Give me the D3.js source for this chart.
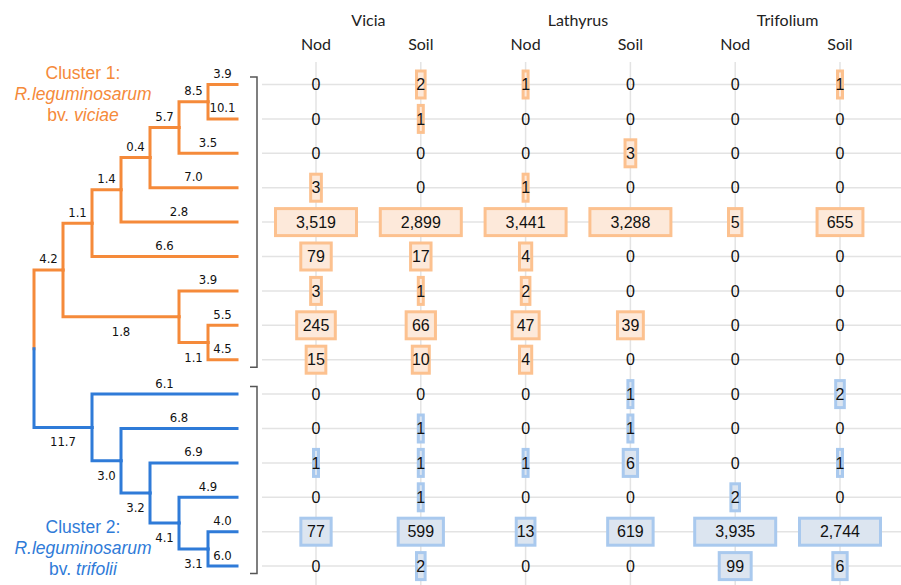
<!DOCTYPE html>
<html>
<head>
<meta charset="utf-8">
<script src="https://cdn.jsdelivr.net/npm/d3@7"></script>
<style>
  body { margin: 0; background: #fff; }
  svg { display: block; }
</style>
</head>
<body>
<svg id="chart" width="901" height="585"></svg>
<script>
// Host plants and isolation sources (column headers)
const hosts = ["Vicia", "Lathyrus", "Trifolium"];
const sources = ["Nod", "Soil"];

// Isolate counts per genotype (rows follow the tree's leaf order)
const viciaNod      = [0, 0, 0, 3, 3519, 79, 3, 245, 15, 0, 0, 1, 0, 77, 0];
const viciaSoil     = [2, 1, 0, 0, 2899, 17, 1, 66, 10, 0, 1, 1, 1, 599, 2];
const lathyrusNod   = [1, 0, 0, 1, 3441, 4, 2, 47, 4, 0, 0, 1, 0, 13, 0];
const lathyrusSoil  = [0, 0, 3, 0, 3288, 0, 0, 39, 0, 1, 1, 6, 0, 619, 0];
const trifoliumNod  = [0, 0, 0, 0, 5, 0, 0, 0, 0, 0, 0, 0, 2, 3935, 99];
const trifoliumSoil = [1, 0, 0, 0, 655, 0, 0, 0, 0, 2, 0, 1, 0, 2744, 6];

// Genotype tree with branch lengths
const tree = {
  children: [
    { cluster: "c1", len: 4.2, children: [
      { len: 1.1, children: [
        { len: 1.4, children: [
          { len: 0.4, children: [
            { len: 5.7, children: [
              { len: 8.5, children: [{ len: 3.9 }, { len: 10.1 }] },
              { len: 3.5 }
            ] },
            { len: 7.0 }
          ] },
          { len: 2.8 }
        ] },
        { len: 6.6 }
      ] },
      { len: 1.8, children: [
        { len: 3.9 },
        { len: 1.1, children: [{ len: 5.5 }, { len: 4.5 }] }
      ] }
    ] },
    { cluster: "c2", len: 11.7, children: [
      { len: 6.1 },
      { len: 3.0, children: [
        { len: 6.8 },
        { len: 3.2, children: [
          { len: 6.9 },
          { len: 4.1, children: [
            { len: 4.9 },
            { len: 3.1, children: [{ len: 4.0 }, { len: 6.0 }] }
          ] }
        ] }
      ] }
    ] }
  ]
};

// Cluster captions
const clusterNames = ["c1", "c2"];
const clusterTitles = ["Cluster 1:", "Cluster 2:"];
const clusterSpecies = ["R.leguminosarum", "R.leguminosarum"];
const clusterBiovars = ["viciae", "trifolii"];

const seriesValues = [viciaNod, viciaSoil, lathyrusNod, lathyrusSoil, trifoliumNod, trifoliumSoil];
const columns = [];
hosts.forEach((h, i) => sources.forEach((s, j) => {
  columns.push({ key: h + "-" + s, host: h, source: s, values: seriesValues[i * 2 + j] });
}));

const palette = {
  c1: { line: "#f58a3a", fill: "#fde9da", stroke: "#fcc18f" },
  c2: { line: "#2f7bd8", fill: "#dce5f0", stroke: "#a9c9ee" }
};

const svg = d3.select("#chart");
const nRows = viciaNod.length;

// Scales
const y = d3.scaleBand().domain(d3.range(nRows)).range([67.3, 67.3 + nRows * 34.4]);
const x = d3.scalePoint().domain(columns.map(c => c.key)).range([316, 840]);
const boxWidth = d3.scaleLog()
  .domain([1, 10, 100, 1000, 2500])
  .range([8, 20, 35, 52, 84])
  .clamp(true);

// ---- Tree (leaf-aligned cladogram) ----
const root = d3.hierarchy(tree);
const treeLeft = 34, treeWidth = 203;
d3.cluster().size([nRows * 34.4, treeWidth]).separation(() => 1)(root);
root.each(d => {
  d.sx = treeLeft + d.y;
  d.sy = y.range()[0] + d.x;
  let a = d;
  while (a.depth > 1) a = a.parent;
  d.cl = a.depth === 1 ? a.data.cluster : null;
});

const gTree = svg.append("g");
gTree.selectAll("path.link")
  .data(root.descendants().filter(d => d.parent))
  .join("path")
  .attr("class", "link")
  .attr("fill", "none")
  .attr("stroke", d => palette[d.cl].line)
  .attr("stroke-width", 3)
  .attr("stroke-linecap", "square")
  .attr("d", d => `M${d.parent.sx},${d.parent.sy}V${d.sy}H${d.sx}`);

// Branch lengths: above the branch, except inner lower branches (below)
gTree.selectAll("text.len")
  .data(root.descendants().filter(d => d.parent))
  .join("text")
  .attr("class", "len")
  .attr("x", d => (d.parent.sx + d.sx) / 2)
  .attr("y", d => (d.children && d === d.parent.children[1]) ? d.sy + 19 : d.sy - 6.5)
  .attr("text-anchor", "middle")
  .attr("font-family", "DejaVu Sans Condensed, DejaVu Sans, sans-serif")
  .attr("font-size", 13)
  .attr("fill", "#111")
  .text(d => d.data.len.toFixed(1));

// Cluster captions
const captionY = { c1: 79, c2: 533 };
const captionX = 83;
clusterNames.forEach((c, i) => {
  const t = svg.append("text")
    .attr("text-anchor", "middle")
    .attr("font-family", "Liberation Sans, Arial, sans-serif")
    .attr("font-size", 17.5)
    .attr("fill", palette[c].line);
  t.append("tspan").attr("x", captionX).attr("y", captionY[c]).text(clusterTitles[i]);
  t.append("tspan").attr("x", captionX).attr("y", captionY[c] + 21)
    .attr("font-style", "italic").text(clusterSpecies[i]);
  t.append("tspan").attr("x", captionX).attr("y", captionY[c] + 42).text("bv. ");
  t.append("tspan").attr("font-style", "italic").text(clusterBiovars[i]);
});

// ---- Grid ----
const leaves = root.leaves();
const gGrid = svg.append("g");
gGrid.selectAll("line.h")
  .data(d3.range(nRows))
  .join("line")
  .attr("x1", 262).attr("x2", 901)
  .attr("y1", i => y(i) + y.bandwidth() / 2)
  .attr("y2", i => y(i) + y.bandwidth() / 2)
  .attr("stroke", "#e3e3e3").attr("stroke-width", 1.5);
gGrid.selectAll("line.v")
  .data(columns)
  .join("line")
  .attr("x1", d => x(d.key)).attr("x2", d => x(d.key))
  .attr("y1", 62).attr("y2", 585)
  .attr("stroke", "#e3e3e3").attr("stroke-width", 1.5);

// Cluster brackets
clusterNames.forEach(c => {
  const rows = leaves.map((d, i) => ({ d, i })).filter(o => o.d.cl === c).map(o => o.i);
  const top = y(d3.min(rows)) + y.bandwidth() / 2 - 7.5;
  const bot = y(d3.max(rows)) + y.bandwidth() / 2 + 7.5;
  svg.append("path")
    .attr("fill", "none").attr("stroke", "#555").attr("stroke-width", 1.5)
    .attr("d", `M250,${top}H257V${bot}H250`);
});

// ---- Headers ----
const gHead = svg.append("g")
  .attr("font-family", "Lato, sans-serif")
  .attr("font-size", 16)
  .attr("fill", "#222")
  .attr("text-anchor", "middle");
gHead.selectAll("text.host")
  .data(hosts)
  .join("text")
  .attr("class", "host")
  .attr("x", h => d3.mean(columns.filter(c => c.host === h), c => x(c.key)))
  .attr("y", 26)
  .text(h => h);
gHead.selectAll("text.src")
  .data(columns)
  .join("text")
  .attr("class", "src")
  .attr("x", d => x(d.key))
  .attr("y", 50)
  .text(d => d.source);

// ---- Cells ----
const fmt = d3.format(",");
const cells = [];
columns.forEach(c => c.values.forEach((v, i) => cells.push({ col: c.key, row: i, v, cl: leaves[i].cl })));

const gCells = svg.append("g");
gCells.selectAll("rect")
  .data(cells.filter(d => d.v > 0))
  .join("rect")
  .attr("x", d => x(d.col) - boxWidth(d.v) / 2 + 1.5)
  .attr("y", d => y(d.row) + y.bandwidth() / 2 - 15 + 1.5)
  .attr("width", d => boxWidth(d.v) - 3)
  .attr("height", 27)
  .attr("fill", d => palette[d.cl].fill)
  .attr("stroke", d => palette[d.cl].stroke)
  .attr("stroke-width", 3);

gCells.selectAll("text")
  .data(cells)
  .join("text")
  .attr("x", d => x(d.col))
  .attr("y", d => y(d.row) + y.bandwidth() / 2)
  .attr("dy", "0.36em")
  .attr("text-anchor", "middle")
  .attr("font-family", "Liberation Sans, Arial, sans-serif")
  .attr("font-size", 16)
  .attr("fill", "#111")
  .text(d => fmt(d.v));
</script>
</body>
</html>
